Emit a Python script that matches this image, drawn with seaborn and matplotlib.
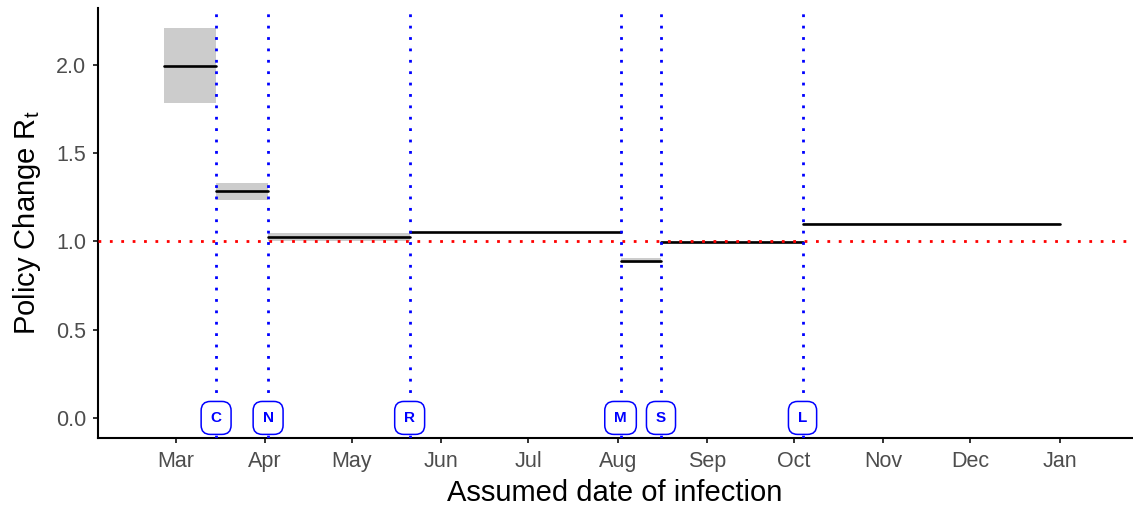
import matplotlib
matplotlib.use("Agg")
import matplotlib.pyplot as plt
import matplotlib.dates as mdates
import seaborn as sns
import pandas as pd

# Style
sns.set_theme(style="white")
plt.rcParams["font.family"] = ["Liberation Sans", "DejaVu Sans"]
plt.rcParams["mathtext.fontset"] = "custom"
plt.rcParams["mathtext.rm"] = "Liberation Sans"

# -----------------------------
# DATA
# -----------------------------
change_dates = ["2020-03-15", "2020-04-02", "2020-05-21", "2020-08-02", "2020-08-16", "2020-10-04"]
change_labels = ["C", "N", "R", "M", "S", "L"]

seg_start = ["2020-02-26"] + change_dates
seg_end = change_dates + ["2021-01-01"]
rt_mid = [1.993, 1.284, 1.027, 1.051, 0.888, 0.999, 1.097]
rt_lo = [1.786, 1.235, 1.005, 1.045, 0.876, 0.995, 1.092]
rt_hi = [2.210, 1.331, 1.050, 1.056, 0.905, 1.003, 1.102]

month_ticks = pd.date_range("2020-03-01", "2021-01-01", freq="MS")

rows = []
for i in range(len(rt_mid)):
    rows.append({"seg": i, "date": pd.Timestamp(seg_start[i]), "rt": rt_mid[i]})
    rows.append({"seg": i, "date": pd.Timestamp(seg_end[i]), "rt": rt_mid[i]})
df = pd.DataFrame(rows)

# -----------------------------
# FIGURE
# -----------------------------
fig = plt.figure(figsize=(11.33, 5.08), dpi=100)
ax = fig.add_axes([0.0862, 0.1384, 0.9128, 0.8453])

# uncertainty bands
for i in range(len(rt_mid)):
    ax.fill_between([pd.Timestamp(seg_start[i]), pd.Timestamp(seg_end[i])],
                    rt_lo[i], rt_hi[i], color="#cccccc", lw=0, zorder=1)

# R_t segments
sns.lineplot(data=df, x="date", y="rt", units="seg", estimator=None,
             color="black", lw=1.9, ax=ax, zorder=2)

# threshold line
ax.axhline(1.0, color="red", lw=2.0, ls=(0, (1, 3.1)), zorder=3)

# policy change lines + labels
for d, lab in zip(change_dates, change_labels):
    ax.axvline(pd.Timestamp(d), color="blue", lw=2.0, ls=(0, (1, 3.1)), zorder=3)
    ax.text(pd.Timestamp(d), 0.0, lab, ha="center", va="center", fontsize=11,
            fontweight="bold", color="blue", zorder=5,
            bbox=dict(boxstyle="round,pad=0.62,rounding_size=0.6", fc="white",
                      ec="blue", lw=1.1))

# -----------------------------
# AXES
# -----------------------------
ax.set_xlim(pd.Timestamp("2020-02-03"), pd.Timestamp("2021-01-26"))
ax.set_ylim(-0.112, 2.321)
ax.set_xticks(month_ticks)
ax.xaxis.set_major_formatter(mdates.DateFormatter("%b"))
ax.set_yticks([0.0, 0.5, 1.0, 1.5, 2.0])
ax.set_yticklabels(["0.0", "0.5", "1.0", "1.5", "2.0"])

ax.tick_params(axis="both", which="major", length=3.8, width=1.4, color="#333333",
               labelsize=15.5, labelcolor="#4d4d4d", pad=4.5, bottom=True, left=True)
ax.tick_params(axis="x", pad=5.8)
for side in ["top", "right"]:
    ax.spines[side].set_visible(False)
for side in ["left", "bottom"]:
    ax.spines[side].set_color("black")
    ax.spines[side].set_linewidth(1.5)

ax.set_xlabel("Assumed date of infection", fontsize=21, color="black", labelpad=5)
ax.set_ylabel(r"Policy Change $\mathregular{R_t}$", fontsize=21, color="black", labelpad=9)

fig.savefig("out.png", dpi=100)
